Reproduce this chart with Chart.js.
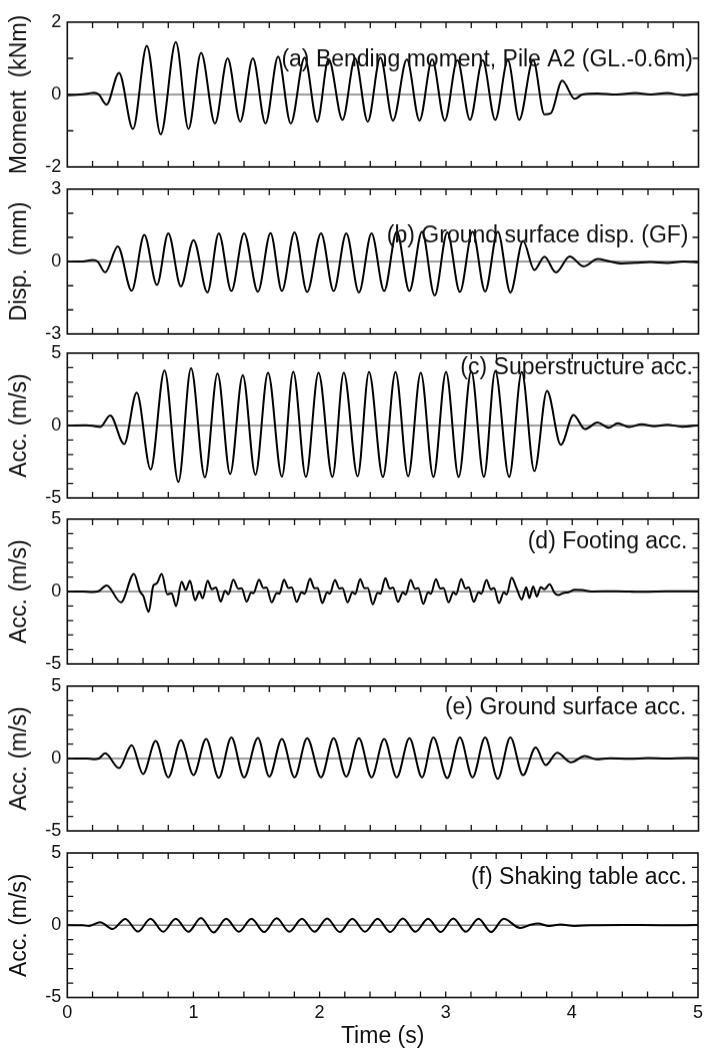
<!DOCTYPE html>
<html><head><meta charset="utf-8">
<script src="https://cdn.jsdelivr.net/npm/chart.js@4.4.0/dist/chart.umd.min.js"></script>
<style>
html,body{margin:0;padding:0;background:#fff;}
#wrap{position:relative;width:708px;height:1048px;overflow:hidden;background:#fff;}
.panel{position:absolute;left:0;width:708px;}
</style></head><body><div id="wrap"></div>
<script>
// ---- tick labels ----
const timeTicks = [0, 1, 2, 3, 4, 5];
const momentTicks = [-2, 0, 2];
const dispTicks = [-3, 0, 3];
const accTicks = [-5, 0, 5];

// ---- (a) Bending moment, Pile A2 (kNm) ----
const tA = [0, 0.1, 0.17, 0.21, 0.25, 0.31, 0.41, 0.52, 0.63, 0.74, 0.86, 0.96, 1.06, 1.17, 1.27, 1.37, 1.47, 1.57, 1.67, 1.77, 1.88, 1.98, 2.07, 2.18, 2.28, 2.38, 2.48, 2.58, 2.69, 2.79, 2.89, 2.99, 3.09, 3.19, 3.29, 3.39, 3.49, 3.58, 3.69, 3.78, 3.83, 3.92, 4.02, 4.08, 4.2, 4.35, 4.5, 4.62, 4.75, 4.88, 5.0];
const vA = [-0.02, 0.0, 0.03, 0.05, 0.0, -0.28, 0.6, -0.95, 1.35, -1.1, 1.45, -0.95, 1.15, -0.8, 1.0, -0.75, 1.0, -0.8, 1.05, -0.8, 1.02, -0.75, 0.98, -0.7, 1.0, -0.75, 1.02, -0.72, 0.97, -0.72, 0.97, -0.72, 0.95, -0.7, 0.95, -0.7, 0.95, -0.7, 0.95, -0.55, -0.52, 0.38, -0.12, 0.0, 0.03, 0.0, 0.04, 0.0, 0.04, -0.02, 0.02];

// ---- (b) Ground surface disp. (mm) ----
const tB = [0, 0.12, 0.2, 0.24, 0.30, 0.40, 0.51, 0.61, 0.71, 0.80, 0.90, 1.00, 1.11, 1.20, 1.30, 1.40, 1.51, 1.61, 1.70, 1.80, 1.90, 2.01, 2.11, 2.21, 2.31, 2.41, 2.51, 2.61, 2.71, 2.81, 2.91, 3.01, 3.11, 3.21, 3.31, 3.41, 3.51, 3.61, 3.70, 3.78, 3.87, 3.98, 4.09, 4.2, 4.3, 4.39, 4.5, 4.62, 4.75, 4.88, 5.0];
const vB = [0.0, 0.0, 0.06, 0.0, -0.45, 0.63, -1.21, 1.1, -0.97, 1.17, -1.03, 0.89, -1.28, 1.17, -1.22, 1.17, -1.25, 1.18, -1.22, 1.21, -1.26, 1.17, -1.22, 1.17, -1.28, 1.17, -1.22, 1.24, -1.22, 1.24, -1.41, 1.21, -1.26, 1.24, -1.24, 1.24, -1.28, 0.85, -0.35, 0.2, -0.45, 0.21, -0.2, 0.1, 0.0, -0.08, -0.05, -0.02, -0.06, 0.0, -0.03];

// ---- (c) Superstructure acc. ----
const tC = [0, 0.15, 0.22, 0.26, 0.34, 0.45, 0.55, 0.66, 0.77, 0.88, 0.98, 1.09, 1.19, 1.29, 1.39, 1.49, 1.59, 1.70, 1.79, 1.89, 1.99, 2.10, 2.19, 2.30, 2.39, 2.50, 2.60, 2.70, 2.80, 2.90, 3.00, 3.10, 3.20, 3.30, 3.39, 3.50, 3.60, 3.70, 3.80, 3.91, 4.01, 4.10, 4.20, 4.29, 4.36, 4.45, 4.55, 4.65, 4.75, 4.87, 5.0];
const vC = [0.0, 0.02, -0.05, -0.1, 0.7, -1.28, 2.28, -3.03, 3.8, -3.9, 3.95, -3.58, 3.6, -3.35, 3.48, -3.4, 3.65, -3.53, 3.72, -3.55, 3.65, -3.55, 3.65, -3.5, 3.7, -3.55, 3.7, -3.5, 3.65, -3.55, 3.7, -3.55, 3.75, -3.55, 3.75, -3.55, 3.7, -3.15, 2.4, -1.33, 0.73, -0.25, 0.2, -0.15, 0.15, -0.1, 0.08, -0.05, 0.06, -0.08, 0.02];

// ---- (d) Footing acc. ----
const tD = [0, 0.12, 0.2, 0.246, 0.312, 0.425, 0.528, 0.576, 0.602, 0.645, 0.681, 0.708, 0.748, 0.792, 0.827, 0.861, 0.906, 0.938, 0.972, 1.012, 1.046, 1.072, 1.112, 1.144, 1.178, 1.215, 1.249, 1.276, 1.315, 1.355, 1.381, 1.421, 1.456, 1.474, 1.519, 1.553, 1.578, 1.619, 1.659, 1.68, 1.717, 1.751, 1.778, 1.817, 1.855, 1.88, 1.923, 1.958, 1.983, 2.02, 2.058, 2.08, 2.12, 2.155, 2.18, 2.22, 2.258, 2.28, 2.32, 2.355, 2.38, 2.42, 2.458, 2.48, 2.52, 2.555, 2.58, 2.62, 2.658, 2.68, 2.72, 2.755, 2.78, 2.82, 2.858, 2.88, 2.92, 2.955, 2.98, 3.02, 3.058, 3.08, 3.12, 3.155, 3.18, 3.22, 3.258, 3.28, 3.32, 3.355, 3.38, 3.42, 3.458, 3.48, 3.52, 3.56, 3.60, 3.635, 3.66, 3.69, 3.72, 3.75, 3.78, 3.82, 3.86, 3.89, 3.93, 3.97, 4.02, 4.08, 4.15, 4.35, 4.55, 4.75, 5.0];
const vD = [0.0, 0.0, -0.03, 0.02, 0.42, -0.75, 1.21, 0.0, -0.3, -1.4, 0.4, 0.56, 1.21, -0.19, -0.12, -1.0, 0.68, 0.1, 0.75, -0.6, 0.0, -0.47, 0.75, 0.16, 0.28, -0.7, 0.05, -0.19, 0.82, 0.19, 0.22, -0.7, -0.07, -0.12, 0.82, 0.25, 0.28, -0.75, -0.1, -0.15, 0.82, 0.25, 0.28, -0.72, -0.05, -0.15, 0.88, 0.22, 0.25, -0.8, -0.05, -0.15, 0.8, 0.2, 0.25, -0.75, -0.05, -0.18, 0.85, 0.22, 0.25, -0.88, -0.08, -0.15, 0.92, 0.2, 0.28, -0.72, -0.05, -0.2, 0.8, 0.18, 0.25, -0.85, -0.05, -0.15, 0.85, 0.2, 0.25, -0.75, -0.05, -0.2, 0.85, 0.2, 0.3, -0.72, -0.05, -0.15, 0.8, 0.15, 0.25, -0.8, -0.05, -0.2, 0.95, 0.2, -0.55, 0.3, -0.45, 0.35, -0.35, 0.3, 0.15, 0.5, -0.1, -0.25, -0.1, -0.05, 0.12, 0.1, 0.0, 0.02, -0.02, 0.01, 0.02];

// ---- (e) Ground surface acc. ----
const tE = [0, 0.15, 0.21, 0.25, 0.30, 0.41, 0.51, 0.60, 0.70, 0.80, 0.90, 1.00, 1.10, 1.20, 1.30, 1.40, 1.51, 1.60, 1.70, 1.80, 1.90, 2.01, 2.11, 2.21, 2.31, 2.41, 2.51, 2.61, 2.71, 2.81, 2.90, 3.01, 3.11, 3.21, 3.31, 3.41, 3.51, 3.61, 3.71, 3.79, 3.88, 3.99, 4.10, 4.19, 4.3, 4.45, 4.6, 4.75, 4.9, 5.0];
const vE = [0.0, 0.0, -0.05, 0.0, 0.36, -0.66, 0.92, -1.07, 1.21, -1.3, 1.26, -1.14, 1.35, -1.33, 1.45, -1.3, 1.42, -1.25, 1.35, -1.3, 1.4, -1.3, 1.4, -1.25, 1.4, -1.3, 1.35, -1.3, 1.4, -1.3, 1.45, -1.35, 1.45, -1.3, 1.45, -1.4, 1.45, -1.15, 0.76, -0.45, 0.4, -0.26, 0.17, -0.05, 0.02, -0.02, 0.03, 0.0, 0.04, 0.02];

// ---- (f) Shaking table acc. ----
const tF = [0, 0.12, 0.17, 0.26, 0.36, 0.46, 0.56, 0.66, 0.76, 0.86, 0.96, 1.06, 1.16, 1.26, 1.36, 1.46, 1.56, 1.66, 1.76, 1.86, 1.96, 2.06, 2.16, 2.26, 2.36, 2.46, 2.56, 2.66, 2.76, 2.86, 2.96, 3.06, 3.16, 3.26, 3.36, 3.46, 3.59, 3.68, 3.73, 3.82, 3.91, 4.02, 4.15, 4.4, 4.7, 5.0];
const vF = [0.0, 0.0, -0.05, 0.21, -0.26, 0.44, -0.44, 0.45, -0.45, 0.45, -0.45, 0.5, -0.5, 0.45, -0.45, 0.45, -0.47, 0.48, -0.45, 0.45, -0.45, 0.47, -0.47, 0.45, -0.45, 0.45, -0.47, 0.47, -0.45, 0.45, -0.47, 0.47, -0.45, 0.45, -0.47, 0.45, -0.19, 0.05, 0.12, -0.05, 0.05, -0.05, 0.0, 0.02, 0.0, 0.01];

// ---- panel settings (layout / text) ----
const FONT = '"Liberation Sans", Arial, Helvetica, sans-serif';
const panels = [
  { t: tA, v: vA, min: -2, max: 2, yt: momentTicks, yTitle: 'Moment  (kNm)', label: '(a) Bending moment, Pile A2 (GL.-0.6m)', top: 22, lx: 5.5, ly: 38 },
  { t: tB, v: vB, min: -3, max: 3, yt: dispTicks, yTitle: 'Disp.  (mm)', label: '(b) Ground surface disp. (GF)', top: 189, lx: 10, ly: 47 },
  { t: tC, v: vC, min: -5, max: 5, yt: accTicks, yTitle: 'Acc. (m/s)', label: '(c) Superstructure acc.', top: 353, lx: 5.5, ly: 15 },
  { t: tD, v: vD, min: -5, max: 5, yt: accTicks, yTitle: 'Acc. (m/s)', label: '(d) Footing acc.', top: 519, lx: 11, ly: 23 },
  { t: tE, v: vE, min: -5, max: 5, yt: accTicks, yTitle: 'Acc. (m/s)', label: '(e) Ground surface acc.', top: 686, lx: 12, ly: 22 },
  { t: tF, v: vF, min: -5, max: 5, yt: accTicks, yTitle: 'Acc. (m/s)', label: '(f) Shaking table acc.', top: 853, lx: 11, ly: 25 }
];
const H = 144.5, PAD = 24, LEFT = 67.3, RIGHT_PAD = 9.5;

const framePlugin = {
  id: 'frame',
  beforeDatasetsDraw(chart) {
    const { ctx, chartArea: a, scales: { y } } = chart;
    const y0 = y.getPixelForValue(0);
    ctx.save();
    ctx.strokeStyle = '#808080';
    ctx.lineWidth = 1.3;
    ctx.beginPath(); ctx.moveTo(a.left, y0); ctx.lineTo(a.right, y0); ctx.stroke();
    ctx.restore();
  },
  afterDatasetsDraw(chart, args, opts) {
    const { ctx, chartArea: a, scales: { x, y } } = chart;
    ctx.save();
    ctx.strokeStyle = '#111';
    ctx.lineWidth = 1.6;
    ctx.strokeRect(a.left, a.top, a.right - a.left, a.bottom - a.top);
    ctx.lineWidth = 1.3;
    ctx.beginPath();
    const TL = 6;
    for (let k = 1; k < 25; k++) {
      const px = x.getPixelForValue(k * 0.2);
      ctx.moveTo(px, a.bottom); ctx.lineTo(px, a.bottom - TL);
      ctx.moveTo(px, a.top); ctx.lineTo(px, a.top + TL);
    }
    for (let vv = Math.ceil(y.min) + 1; vv < y.max; vv++) {
      const py = y.getPixelForValue(vv);
      ctx.moveTo(a.left, py); ctx.lineTo(a.left + TL, py);
      ctx.moveTo(a.right, py); ctx.lineTo(a.right - TL, py);
    }
    ctx.stroke();
    ctx.fillStyle = '#111';
    ctx.font = '23px ' + FONT;
    ctx.textAlign = 'right';
    ctx.textBaseline = 'middle';
    ctx.fillText(opts.label, a.right - opts.lx, a.top + opts.ly);
    ctx.restore();
  }
};

const wrap = document.getElementById('wrap');
panels.forEach((p, i) => {
  const last = i === panels.length - 1;
  const div = document.createElement('div');
  div.className = 'panel';
  const ctop = p.top - PAD;
  const ch = last ? 1048 - ctop : H + 2 * PAD;
  div.style.top = ctop + 'px';
  div.style.height = ch + 'px';
  const cv = document.createElement('canvas');
  cv.width = 708; cv.height = ch;
  cv.style.width = '708px'; cv.style.height = ch + 'px';
  div.appendChild(cv);
  wrap.appendChild(div);

  const pts = p.t.map((tt, k) => ({ x: tt, y: p.v[k] }));
  const xAxisHeight = last ? ch - PAD - H : 0;
  new Chart(cv.getContext('2d'), {
    type: 'line',
    data: { datasets: [{ data: pts, borderColor: '#000', borderWidth: 2, pointRadius: 0, fill: false, cubicInterpolationMode: 'monotone' }] },
    options: {
      responsive: false, animation: false, devicePixelRatio: 1,
      layout: { padding: { top: PAD, bottom: last ? 0 : PAD, left: 0, right: RIGHT_PAD } },
      plugins: { legend: { display: false }, tooltip: { enabled: false }, frame: { label: p.label, lx: p.lx, ly: p.ly } },
      scales: {
        x: {
          type: 'linear', min: 0, max: 5, display: last,
          grid: { display: false, drawTicks: false }, border: { display: false },
          afterBuildTicks: (s) => { s.ticks = timeTicks.map(v => ({ value: v })); },
          ticks: { color: '#111', padding: 5, font: { size: 18, family: FONT }, maxRotation: 0, autoSkip: false },
          title: { display: true, text: 'Time (s)', color: '#111', padding: { top: 0, bottom: 0 }, font: { size: 23, family: FONT, lineHeight: 1 } },
          afterFit: (s) => { s.height = xAxisHeight; }
        },
        y: {
          type: 'linear', min: p.min, max: p.max,
          grid: { display: false, drawTicks: false }, border: { display: false },
          afterBuildTicks: (s) => { s.ticks = p.yt.map(v => ({ value: v })); },
          ticks: { color: '#111', padding: 6, font: { size: 18, family: FONT }, autoSkip: false },
          title: { display: true, text: p.yTitle, color: '#111', padding: { top: 8, bottom: 0 }, font: { size: 23, family: FONT, lineHeight: 1 } },
          afterFit: (s) => { s.width = LEFT; }
        }
      }
    },
    plugins: [framePlugin]
  });
});
</script>
</body></html>
